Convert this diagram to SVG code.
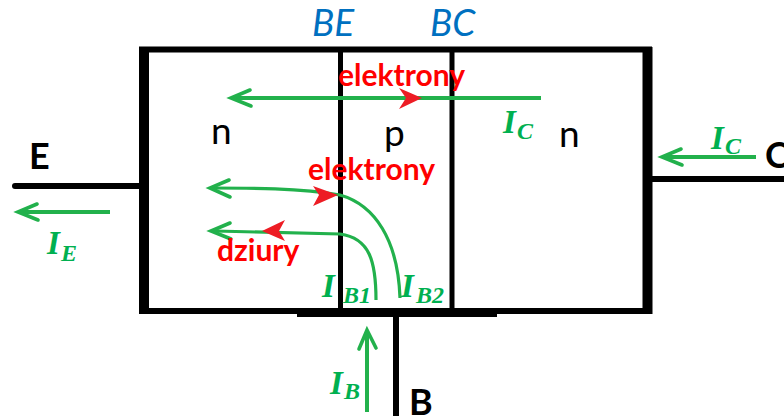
<svg xmlns="http://www.w3.org/2000/svg" width="784" height="416" viewBox="0 0 784 416">
<style>
.w{fill:none;stroke:#000}
.g{fill:none;stroke:#22b14c;stroke-width:4}
.c{fill:none;stroke:#22b14c;stroke-width:3.200}
.h{fill:none;stroke:#22b14c;stroke-width:3.600;stroke-linecap:round}
.r{fill:#ed1c24}
.k{font-family:Lato,"Liberation Sans",sans-serif;fill:#000}
.b{font-family:Lato,"Liberation Sans",sans-serif;font-style:italic;font-size:37px;fill:#0070c0}
.e{font-family:Lato,"Liberation Sans",sans-serif;font-weight:700;font-size:30px;fill:#f00}
.i{font-family:"Liberation Serif",serif;font-style:italic;font-weight:700;fill:#00b050}
</style>
<rect width="784" height="416" fill="#fff"/>
<g id="transistor">
<path class="w" stroke-width="6" d="M139 49.500H652M144 311H652"/>
<path class="w" stroke-width="10" d="M144 47V314M647.500 47V314"/>
<path class="w" stroke-width="6" d="M297 314H497"/>
<path class="w" stroke-width="5" d="M340.500 50V312M452 50V312"/>
</g>
<g id="terminal-E">
<path class="w" stroke-width="6" stroke-linecap="round" d="M15 186H140"/>
<text class="k" x="29" y="169" font-size="36" font-weight="700">E</text>
</g>
<g id="terminal-C">
<path class="w" stroke-width="6" d="M650 179H784"/>
<text class="k" x="765" y="168" font-size="36" font-weight="700">C</text>
</g>
<g id="terminal-B">
<path class="w" stroke-width="6" d="M396 314V416"/>
<text class="k" x="409" y="415" font-size="36" font-weight="700">B</text>
</g>
<g id="connectors">
<path class="g" d="M232 98H541"/>
<path class="h" d="M250 90L231 98L251 106"/>
<path class="c" d="M211 188C250 188 300 188 340 195C375 205 398 240 400 298"/>
<path class="h" d="M229 180L210 188L230 197"/>
<path class="c" d="M212 231C260 232 310 233 340 234C370 238 376 262 376 300"/>
<path class="h" d="M230 223L211 231L231 239"/>
<path class="g" d="M19 212H110"/>
<path class="h" d="M37 204L18 212L38 220"/>
<path class="g" d="M663 157H756"/>
<path class="h" d="M681 149L662 157L682 165"/>
<path class="g" d="M367 331V412"/>
<path class="h" d="M359 349L367 330L376 348"/>
<path class="r" d="M399 88L422 98L399 109L406 98Z"/>
<path class="r" d="M313 186L338 195L313 206L319 195Z"/>
<path class="r" d="M262 231L285 220L279 231L285 241Z"/>
</g>
<g id="labels">
<text class="b" x="312" y="36">BE</text>
<text class="b" x="430" y="36">BC</text>
<text class="k" x="211" y="144" font-size="37">n</text>
<text class="k" x="384" y="146" font-size="37">p</text>
<text class="k" x="559" y="147" font-size="37">n</text>
<text class="e" x="338" y="86">elektrony</text>
<text class="e" x="308" y="180">elektrony</text>
<text class="e" x="217" y="261">dziury</text>
<text class="i" x="503" y="133" font-size="33">I</text><text class="i" x="517" y="139" font-size="24">C</text>
<text class="i" x="711" y="149" font-size="33">I</text><text class="i" x="725" y="154" font-size="24">C</text>
<text class="i" x="47" y="254" font-size="33">I</text><text class="i" x="61" y="261" font-size="24">E</text>
<text class="i" x="322" y="297" font-size="33">I</text><text class="i" x="343" y="303" font-size="24">B1</text>
<text class="i" x="401" y="297" font-size="33">I</text><text class="i" x="416" y="303" font-size="24">B2</text>
<text class="i" x="330" y="394" font-size="33">I</text><text class="i" x="344" y="399" font-size="24">B</text>
</g>
</svg>
